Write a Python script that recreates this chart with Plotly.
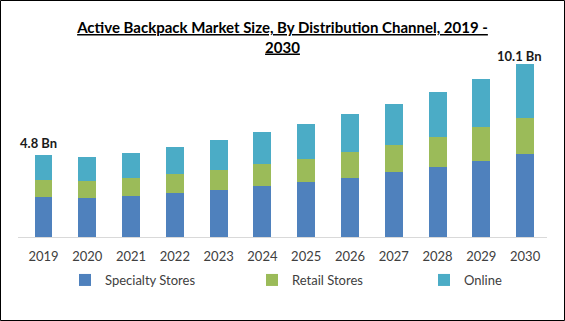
import plotly.graph_objects as go

years = ["2019", "2020", "2021", "2022", "2023", "2024", "2025", "2026", "2027", "2028", "2029", "2030"]
specialty = [2.36, 2.28, 2.42, 2.59, 2.75, 2.97, 3.22, 3.45, 3.78, 4.08, 4.43, 4.84]
retail = [0.98, 1.00, 1.05, 1.11, 1.15, 1.31, 1.33, 1.52, 1.62, 1.80, 1.99, 2.15]
online = [1.46, 1.42, 1.45, 1.58, 1.76, 1.85, 2.05, 2.21, 2.40, 2.63, 2.85, 3.16]
series_names = ["Specialty Stores", "Retail Stores", "Online"]
colors = ["#4F81BD", "#9BBB59", "#4BACC6"]
label_first = "4.8 Bn"
label_last = "10.1 Bn"

W, H = 565, 321
L, R, T, B = 18, 18, 50, 84
pw, ph = W - L - R, H - T - B

def px_x(x):
    return (x - L) / pw

def px_y(y):
    return (H - B - y) / ph

fig = go.Figure()
legends = ["legend", "legend2", "legend3"]
for name, vals, col, lg in zip(series_names, [specialty, retail, online], colors, legends):
    fig.add_trace(go.Bar(x=years, y=vals, name=name, marker=dict(color=col, line=dict(width=0)),
                         legend=lg, hoverinfo="skip"))

font_family = "Lato, 'Open Sans', sans-serif"
totals = [a + b + c for a, b, c in zip(specialty, retail, online)]

fig.add_annotation(x=0, y=totals[0], text="<b>" + label_first + "</b>", showarrow=False,
                   yanchor="bottom", xshift=-5, yshift=2, font=dict(size=13, color="#1a1a1a", family=font_family))
fig.add_annotation(x=len(years) - 1, y=totals[-1], text="<b>" + label_last + "</b>", showarrow=False,
                   yanchor="bottom", xshift=-6, yshift=-2, font=dict(size=13, color="#1a1a1a", family=font_family))

legend_common = dict(orientation="h", yanchor="middle", xanchor="left", bgcolor="rgba(0,0,0,0)",
                     font=dict(size=13, color="#404040", family=font_family), itemwidth=30,
                     tracegroupgap=0)
fig.update_layout(
    width=W, height=H,
    margin=dict(l=L, r=R, t=T, b=B),
    paper_bgcolor="white", plot_bgcolor="white",
    barmode="stack", bargap=0.59,
    title=dict(text="<b><u>Active Backpack Market Size, By Distribution Channel, 2019 -<br>2030</u></b>",
               x=0.5, xref="paper", xanchor="center", y=1 - 33 / H, yref="container", yanchor="middle",
               font=dict(size=15, color="#000000", family=font_family)),
    xaxis=dict(type="category", showline=True, linecolor="#d9d9d9", linewidth=1, ticks="",
               showgrid=False, tickfont=dict(size=13, color="#404040", family=font_family),
               ticklabelstandoff=7, fixedrange=True),
    yaxis=dict(visible=False, range=[0, ph / 17.08], fixedrange=True),
    legend=dict(x=px_x(65), y=px_y(280), **legend_common),
    legend2=dict(x=px_x(252), y=px_y(280), **legend_common),
    legend3=dict(x=px_x(424), y=px_y(280), **legend_common),
    showlegend=True,
)

fig.add_shape(type="rect", xref="paper", yref="paper",
              x0=px_x(0.5), x1=px_x(W - 0.5), y0=px_y(H - 0.5), y1=px_y(0.5),
              line=dict(color="#000000", width=1), fillcolor="rgba(0,0,0,0)", layer="above")

fig.write_html("out.html", config={"displayModeBar": False})
